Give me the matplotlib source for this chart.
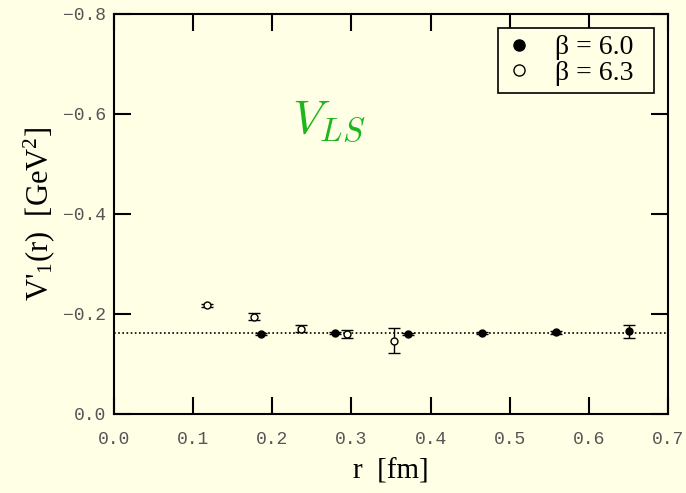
import matplotlib
matplotlib.use("Agg")
import matplotlib.pyplot as plt
from matplotlib.lines import Line2D

# beta = 6.0 (filled)
r_60 = [0.186, 0.279, 0.372, 0.465, 0.558, 0.651]
v_60 = [-0.161, -0.162, -0.161, -0.162, -0.164, -0.166]
e_60 = [0.002, 0.002, 0.002, 0.002, 0.003, 0.013]

# beta = 6.3 (open)
r_63 = [0.118, 0.177, 0.236, 0.294, 0.354]
v_63 = [-0.218, -0.195, -0.171, -0.160, -0.147]
e_63 = [0.003, 0.007, 0.007, 0.008, 0.025]

plateau = -0.1627
x_ticks = [0.0, 0.1, 0.2, 0.3, 0.4, 0.5, 0.6, 0.7]
y_ticks = [0.0, -0.2, -0.4, -0.6, -0.8]
legend_labels = ["β = 6.0", "β = 6.3"]

bg = "#ffffe6"
serif = "Liberation Serif"
plt.rcParams["mathtext.fontset"] = "custom"
plt.rcParams["mathtext.rm"] = serif
plt.rcParams["mathtext.it"] = serif + ":italic"

fig = plt.figure(figsize=(6.86, 4.93), dpi=100, facecolor=bg)
ax = fig.add_axes([114 / 686, 1 - 414 / 493, (668 - 114) / 686, (414 - 14) / 493])
ax.set_facecolor(bg)

ax.axhline(plateau, color="black", lw=1.2, ls=(0, (1, 1.5)), zorder=1)

ax.errorbar(r_60, v_60, yerr=e_60, fmt="o", ms=5, mfc="black", mec="black",
            ecolor="black", elinewidth=1.0, capsize=4.5, capthick=1.0, zorder=3)
ax.errorbar(r_63, v_63, yerr=e_63, fmt="o", ms=5, mfc=bg, mec="black", mew=1.0,
            ecolor="black", elinewidth=1.0, capsize=4.5, capthick=1.0, zorder=3)

ax.set_xlim(0.0, 0.7)
ax.set_ylim(0.0, -0.8)
ax.set_xticks(x_ticks)
ax.set_yticks(y_ticks)
ax.set_xticklabels([f"{t:.1f}" for t in x_ticks])
ax.set_yticklabels(["0.0" if t == 0 else f"\u2212{abs(t):.1f}" for t in y_ticks])

for lab in ax.get_xticklabels() + ax.get_yticklabels():
    lab.set_fontfamily("Liberation Mono")
    lab.set_fontsize(13)
    lab.set_color("#555555")

ax.tick_params(direction="in", length=12, width=1.5, top=True, right=True)
ax.tick_params(axis="x", pad=12)
ax.tick_params(axis="y", pad=6)
for s in ax.spines.values():
    s.set_linewidth(1.5)

ax.set_xlabel("r  [fm]", fontfamily=serif, fontsize=21, labelpad=8)
ax.set_ylabel(r"V$'_1$(r)  [GeV$^2$]", fontfamily=serif, fontsize=22, labelpad=4)

ax.text(0.2715, -0.585, r"$V_{LS}$", color="#1fb51f", fontsize=34,
        ha="center", va="center", math_fontfamily="cm")

handles = [
    Line2D([], [], ls="none", marker="o", ms=8, mfc="black", mec="black"),
    Line2D([], [], ls="none", marker="o", ms=8, mfc=bg, mec="black", mew=1.0),
]
leg = ax.legend(handles, [s + "\u2002" for s in legend_labels], loc="upper right",
                bbox_to_anchor=(1 - 14 / 554, 1 - 14 / 400),
                frameon=True, fancybox=False, edgecolor="black",
                prop={"family": serif, "size": 20}, handlelength=1.0,
                handletextpad=0.8, borderpad=0.25, labelspacing=0.0,
                borderaxespad=0)
leg.get_frame().set_linewidth(1.2)
leg.get_frame().set_facecolor(bg)
leg.get_frame().set_alpha(1)

fig.savefig("out.png", dpi=100, facecolor=bg)
